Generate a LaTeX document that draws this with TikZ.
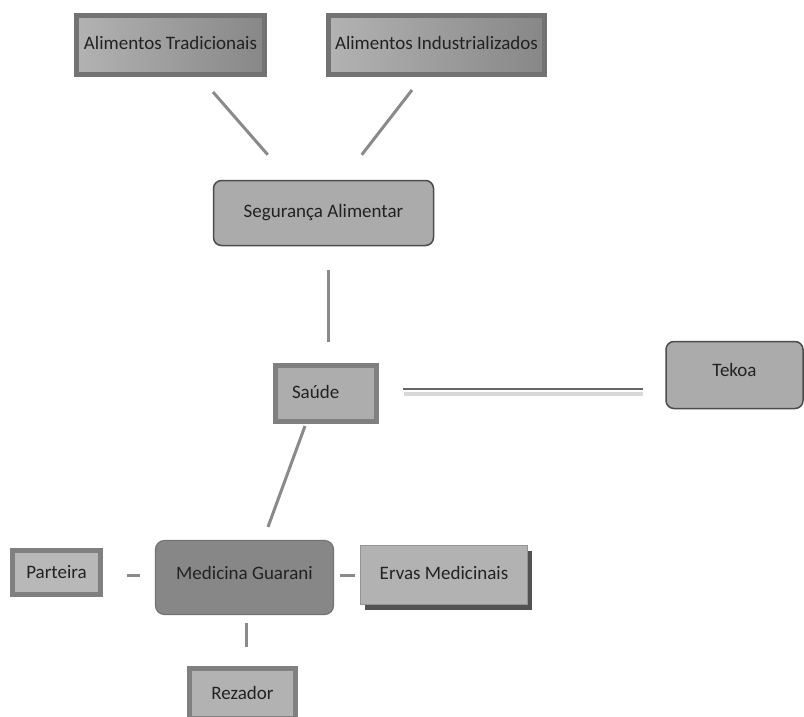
\documentclass[tikz,border=0pt]{standalone}
\usepackage{fontspec}
\setmainfont{Carlito}
\usetikzlibrary{calc,shadows}
\definecolor{txt}{HTML}{222222}
\definecolor{conncol}{HTML}{8A8A8A}
\tikzset{
  every node/.style={font=\fontsize{19}{22}\selectfont, text=txt},
  gradbox/.style={draw=black!55, line width=5pt, minimum height=59pt, inner sep=0pt},
  framebox/.style={draw=black!50, line width=5pt, fill=black!32, inner sep=0pt},
  roundbox/.style={draw=black!70, line width=1.5pt, fill=black!33, rounded corners=8pt, inner sep=0pt},
  conn/.style={draw=conncol, line width=3pt},
}
\begin{document}
\begin{tikzpicture}[x=1pt,y=-1pt]
\useasboundingbox (0,0) rectangle (804,716);
\fill[white] (0,0) rectangle (804,716);
% boxes
\node[gradbox, minimum width=188pt, left color=black!30, right color=black!47] (ta) at (170.5,45) {};
\node[anchor=center] (tat) at (170.5,43) {Alimentos Tradicionais};
\node[gradbox, minimum width=216pt, left color=black!30, right color=black!47] (ti) at (436.5,45) {};
\node (tit) at (436.5,43) {Alimentos Industrializados};
\node[roundbox, minimum width=220pt, minimum height=65pt] (sa) at (323.5,213) {Segurança Alimentar};
\node[framebox, minimum width=101pt, minimum height=56pt, text width=80pt, align=left] (sd) at (326,393.5) {\hspace*{6pt}Saúde\vphantom{g}};
\node[roundbox, minimum width=137pt, minimum height=67pt, text depth=10pt] (tk) at (734.5,375) {Tekoa};
\node[draw=black!55, line width=1.2pt, fill=black!47, rounded corners=9pt, minimum width=178pt, minimum height=74pt, text depth=10pt] (mg) at (244.5,577.5) {Medicina Guarani};
\node[framebox, minimum width=88pt, minimum height=44pt, fill=black!28] (pt) at (56.5,572.5) {Parteira};
\node[draw=black!42, line width=1pt, fill=black!30, minimum width=167pt, minimum height=59pt,
      drop shadow={shadow xshift=4pt, shadow yshift=-5pt, fill=black!75, opacity=0.9}, text depth=4pt] (ev) at (444,575) {Ervas Medicinais};
\node[framebox, minimum width=106pt, minimum height=50pt, fill=black!30] (rz) at (242.5,693) {Rezador};
% connectors
\draw[conn] ($(ta.south)+(42.5,15)$) -- ($(sa.north west)+(55,-25)$);
\draw[conn] ($(ti.south)+(-24.5,13)$) -- ($(sa.north west)+(149,-25)$);
\draw[conn] ($(sa.south)+(4.5,24)$) -- ($(sd.north)+(2,-21)$);
\draw[line width=4pt, black!15] ($(sd.east)+(25,0)$) -- ($(tk.west)+(-22,18.5)$);
\draw[line width=2.5pt, black!60] ($(sd.east)+(24,-4.5)$) -- ($(tk.west)+(-22,14)$);
\draw[conn] ($(sd.south)+(-21,2)$) -- ($(mg.north)+(23.5,-13)$);
\draw[conn] ($(pt.east)+(24,2.5)$) -- ($(mg.west)+(-15,-2.5)$);
\draw[conn] ($(mg.east)+(6,-2.5)$) -- ($(ev.west)+(-5,0)$);
\draw[conn] ($(mg.south)+(1.5,8)$) -- ($(rz.north)+(3.5,-19)$);
\end{tikzpicture}
\end{document}
